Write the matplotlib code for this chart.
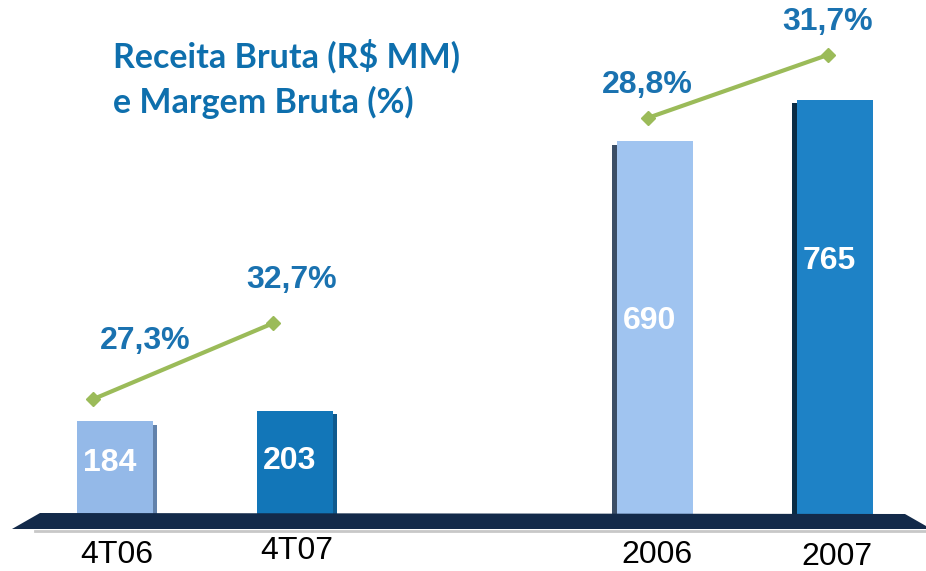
import matplotlib.pyplot as plt
from matplotlib.patches import Polygon

# dados
categorias = ['4T06', '4T07', '2006', '2007']
posicoes = [0, 1, 3, 4]
receita = [184, 203, 690, 765]
margem_tri = [27.3, 32.7]
margem_ano = [28.8, 31.7]
rotulos_tri = ['27,3%', '32,7%']
rotulos_ano = ['28,8%', '31,7%']

W, H = 926, 571
fig = plt.figure(figsize=(W / 100, H / 100), dpi=100)
fonte = 'Liberation Sans'
azul_txt = '#1a72b0'


def px(x, y):
    return (x / W, 1 - y / H)


# piso 3D
piso = Polygon([px(12, 529), px(40, 513), px(905, 514), px(926, 526), px(926, 529)],
               closed=True, transform=fig.transFigure, facecolor='#132a4a',
               edgecolor='none', zorder=1)
fig.patches.append(piso)
fig.add_artist(plt.Line2D([35 / W, 1], [1 - 531 / H] * 2, color='#c8c8c8', lw=2,
                          transform=fig.transFigure, zorder=1))

ax = fig.add_axes([0, 0, 1, 1], facecolor='none')
ax.set_xlim(-0.639, 4.506)
ax.set_ylim(-86.8, 945.7)
ax.axis('off')

cores = ['#94b9e8', '#1276b8', '#a0c4f0', '#1e82c6']
cores_lado = ['#6282ab', '#0f5a8e', '#3b4e66', '#0a2c45']
lado_off = [0.222, 0.222, -0.222, -0.225]
larg = 0.42

ax.bar(posicoes, receita, width=larg, color=cores, zorder=3)
ax.bar([p + o for p, o in zip(posicoes, lado_off)], [r - 6 for r in receita],
       width=0.028, color=cores_lado, zorder=2)

frac = [0.59, 0.55, 0.53, 0.62]
for p, r, f in zip(posicoes, receita, frac):
    ax.text(p - 0.03, r * f, str(r), ha='center', va='center', color='white',
            fontsize=23, fontweight='bold', family=fonte, zorder=4)

y_cat = [-58, -50, -58, -62]
for p, c, yc in zip(posicoes, categorias, y_cat):
    ax.text(p + 0.01, yc, c, ha='center', va='center', color='black',
            fontsize=23, family=fonte)

# margens (dois graficos separados)
verde = '#9bbb59'
ax2 = fig.add_axes([0, 0, 1, 1], facecolor='none')
ax2.set_xlim(ax.get_xlim())
ax2.set_ylim(15.08, 55.66)
ax2.axis('off')
x_tri = [p - 0.12 for p in posicoes[:2]]
ax2.plot(x_tri, margem_tri, color=verde, lw=3, marker='D', markersize=7, zorder=5)
desloc_tri = [(37, 42), (13, 31)]
for x, m, t, d in zip(x_tri, margem_tri, rotulos_tri, desloc_tri):
    ax2.annotate(t, (x, m), xytext=d, textcoords='offset points', ha='center',
                 va='center', color=azul_txt, fontsize=23, fontweight='bold', family=fonte)

ax3 = fig.add_axes([0, 0, 1, 1], facecolor='none')
ax3.set_xlim(ax.get_xlim())
ax3.set_ylim(7.94, 34.23)
ax3.axis('off')
x_ano = [p - 0.04 for p in posicoes[2:]]
ax3.plot(x_ano, margem_ano, color=verde, lw=3, marker='D', markersize=7, zorder=5)
for x, m, t in zip(x_ano, margem_ano, rotulos_ano):
    ax3.annotate(t, (x, m), xytext=(0, 24), textcoords='offset points', ha='center',
                 va='center', color=azul_txt, fontsize=23, fontweight='bold', family=fonte)

# titulo
fig.text(113 / W, 1 - 68 / H, 'Receita Bruta (R$ MM)', ha='left', va='baseline',
         color='#0e6fad', fontsize=24.5, fontweight='bold', family='Lato')
fig.text(113 / W, 1 - 113 / H, 'e Margem Bruta (%)', ha='left', va='baseline',
         color='#0e6fad', fontsize=24.5, fontweight='bold', family='Lato')

plt.savefig('out.png', dpi=100)
